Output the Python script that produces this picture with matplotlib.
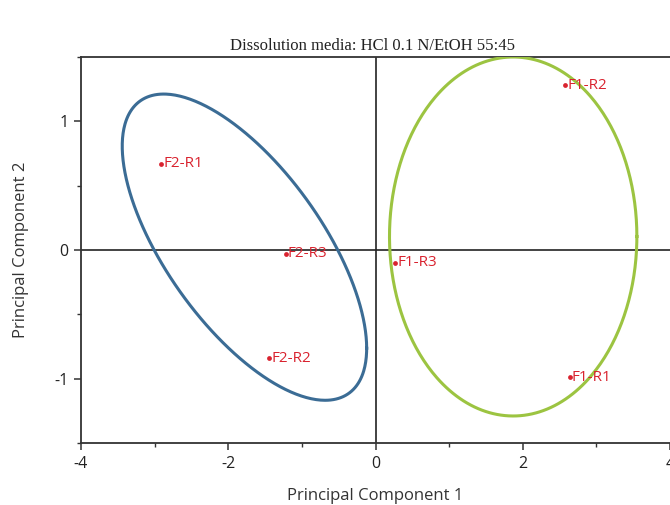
import numpy as np
import matplotlib
matplotlib.use("Agg")
import matplotlib.pyplot as plt
from matplotlib.ticker import MultipleLocator

# Data
labels = ["F2-R1", "F2-R3", "F2-R2", "F1-R2", "F1-R3", "F1-R1"]
pc1 = [-2.91, -1.22, -1.44, 2.58, 0.27, 2.64]
pc2 = [0.67, -0.03, -0.84, 1.28, -0.10, -0.99]

# Ellipse parameters: centre x, centre y, half-extent x, half-extent y, phase (deg)
blue_ell = [-1.78, 0.022, 1.66, 1.19, 131.3]
green_ell = [1.87, 0.105, 1.68, 1.395, 90.0]

xticks = [-4, -2, 0, 2, 4]
yticks = [-1, 0, 1]

fig = plt.figure(figsize=(6.7, 5.05), dpi=100)
ax = fig.add_axes([81/670, 1 - 443/505, 1 - 81/670, (443 - 57)/505])

ax.set_xlim(-4, 4)
ax.set_ylim(-1.5, 1.5)

t = np.linspace(0, 2*np.pi, 400)
for (cx, cy, hx, hy, ph), col in [(blue_ell, "#3b6c95"), (green_ell, "#9cc441")]:
    xs = cx + hx*np.cos(t)
    ys = cy + hy*np.cos(t - np.deg2rad(ph))
    ax.plot(xs, ys, color=col, lw=2.2, zorder=3, clip_on=True)

ax.axhline(0, color="#222222", lw=1.2, zorder=2)
ax.axvline(0, color="#222222", lw=1.2, zorder=2)

ax.scatter(pc1, pc2, s=12, color="#d9232f", zorder=4, linewidths=0)
for x, y, lab in zip(pc1, pc2, labels):
    ax.annotate(lab, (x, y), xytext=(1.5, 0), textcoords="offset points",
                ha="left", va="center", color="#d9232f", fontsize=11,
                family="Open Sans", zorder=5)

ax.set_xticks(xticks)
ax.set_yticks(yticks)
ax.xaxis.set_minor_locator(MultipleLocator(1))
ax.yaxis.set_minor_locator(MultipleLocator(0.5))
ax.set_xticklabels([str(v) for v in xticks], family="Open Sans", fontsize=11.5, color="#222222")
ax.set_yticklabels([str(v) for v in yticks], family="Open Sans", fontsize=11.5, color="#222222")
ax.tick_params(which="major", direction="out", length=5, width=1.1, color="#333333", pad=4)
ax.tick_params(which="minor", direction="out", length=3, width=1.0, color="#333333")

for s in ["left", "bottom", "top"]:
    ax.spines[s].set_color("#333333")
    ax.spines[s].set_linewidth(1.3)
ax.spines["right"].set_visible(False)

ax.set_xlabel("Principal Component 1", family="Open Sans", fontsize=12, color="#333333", labelpad=12)
ax.set_ylabel("Principal Component 2", family="Open Sans", fontsize=12, color="#333333", labelpad=18)

fig.text(372/670, 1 - 46/505, "Dissolution media: HCl 0.1 N/EtOH 55:45",
         family="Liberation Serif", fontsize=12, ha="center", va="center", color="#222222")

fig.savefig("out.png", dpi=100)
